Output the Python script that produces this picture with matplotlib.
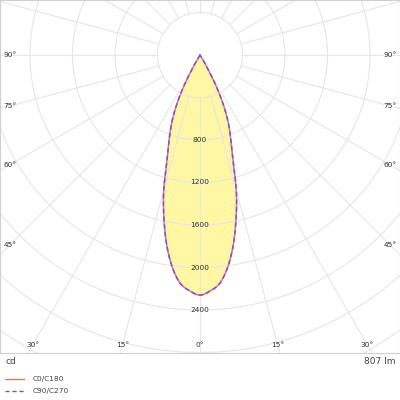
import numpy as np
import matplotlib
matplotlib.use("Agg")
import matplotlib.pyplot as plt
from matplotlib.lines import Line2D

# luminous intensity (cd) vs. gamma angle (deg)
gamma = [0, 2.5, 5, 7.5, 10, 12.5, 15, 17.5, 20, 22.5, 25, 27.5, 30, 32.5]
c0_c180 = [2260, 2222, 2155, 2010, 1810, 1570, 1320, 1030, 850, 700, 530, 330, 110, 0]
c90_c270 = [2260, 2222, 2155, 2010, 1810, 1570, 1320, 1030, 850, 700, 530, 330, 110, 0]

ring_values = [400, 800, 1200, 1600, 2000, 2400, 2800, 3200, 3600, 4000]
ring_labels = [800, 1200, 1600, 2000, 2400]
angle_ticks = [0, 15, 30, 45, 60, 75, 90]
flux_label = "807 lm"
unit_label = "cd"
series_names = ["C0/C180", "C90/C270"]

GRID = "#e6e6e6"
FILL = "#fff7a3"
RED = "#ff6a6a"
BLUE = "#5a5aff"

W, H = 400, 400
cx_px, cy_px = 200, 55          # pole position in pixels
bottom_px = 353                 # lower frame edge
scale = 400 / 42.5              # cd per pixel

fig = plt.figure(figsize=(4, 4), dpi=100)
ax = fig.add_axes([0, 1 - bottom_px / H, 1, bottom_px / H])
ax.set_xlim(-cx_px * scale, (W - cx_px) * scale)
ax.set_ylim(-(bottom_px - cy_px) * scale, cy_px * scale)
ax.set_xticks([])
ax.set_yticks([])
for sp in ax.spines.values():
    sp.set_color("#d0d0d0")
    sp.set_linewidth(0.8)


def to_xy(angle_deg, r):
    a = np.radians(angle_deg)
    return r * np.sin(a), -r * np.cos(a)


def catmull_rom(px, py, n=12):
    # smooth curve through the measured points
    px = np.concatenate([[px[0]], px, [px[-1]]])
    py = np.concatenate([[py[0]], py, [py[-1]]])
    xs, ys = [], []
    tt = np.linspace(0, 1, n, endpoint=False)
    for i in range(1, len(px) - 2):
        p0, p1, p2, p3 = (np.array([px[j], py[j]]) for j in (i - 1, i, i + 1, i + 2))
        for t in tt:
            pt = 0.5 * ((2 * p1) + (-p0 + p2) * t
                        + (2 * p0 - 5 * p1 + 4 * p2 - p3) * t ** 2
                        + (-p0 + 3 * p1 - 3 * p2 + p3) * t ** 3)
            xs.append(pt[0])
            ys.append(pt[1])
    xs.append(px[-2])
    ys.append(py[-2])
    return np.array(xs), np.array(ys)


def closed_curve(vals):
    g = np.array(gamma, dtype=float)
    v = np.array(vals, dtype=float)
    ang = np.concatenate([-g[::-1], g[1:]])
    rr = np.concatenate([v[::-1], v[1:]])
    keep = rr > 0
    # keep the pole as the end points
    ang = np.concatenate([[ang[keep][0]], ang[keep], [ang[keep][-1]]])
    rr = np.concatenate([[0], rr[keep], [0]])
    x, y = to_xy(ang, rr)
    return catmull_rom(x, y)


# fill under the grid
x0, y0 = closed_curve(c0_c180)
ax.fill(x0, y0, color=FILL, zorder=1, lw=0)

# rings and spokes
t = np.linspace(0, 2 * np.pi, 400)
for r in ring_values:
    ax.plot(r * np.cos(t), r * np.sin(t), color=GRID, lw=0.8, zorder=2)
rmax = ring_values[-1] * 1.5
for a in range(0, 360, 15):
    xa, ya = to_xy(a, np.array([ring_values[0], rmax]))
    ax.plot(xa, ya, color=GRID, lw=0.8, zorder=2)

# curves
ax.plot(x0, y0, color=RED, lw=1.1, zorder=3)
x1, y1 = closed_curve(c90_c270)
ax.plot(x1, y1, color=BLUE, lw=1.1, ls=(0, (3, 2)), zorder=4)

# ring labels along the 0 deg axis
for r in ring_labels:
    ax.text(0, -r, str(r), ha="center", va="center", fontsize=5.3,
            color="#333333", zorder=5)

# angle labels where spokes meet an inset box
inset = 10 * scale
right = (W - cx_px) * scale - inset
low = -(bottom_px - cy_px) * scale + 8 * scale
for a in angle_ticks:
    a_r = np.radians(a)
    s, c = np.sin(a_r), np.cos(a_r)
    d_side = right / s if s > 1e-9 else np.inf
    d_bot = -low / c if c > 1e-9 else np.inf
    d = min(d_side, d_bot)
    for sign in ([1, -1] if a else [1]):
        ax.text(sign * d * s, -d * c, f"{a}°", ha="center", va="center",
                fontsize=5.3, color="#333333", zorder=5)

# footer texts
fig.text(5 / W, 1 - 362 / H, unit_label, ha="left", va="center", fontsize=6.5, color="#444444")
fig.text(396 / W, 1 - 362 / H, flux_label, ha="right", va="center", fontsize=6.5, color="#444444")

leg_y = [379, 391]
styles = [dict(color=RED, ls="-"), dict(color=BLUE, ls=(0, (3, 2)))]
for name, yy, st in zip(series_names, leg_y, styles):
    fig.add_artist(Line2D([5 / W, 24 / W], [1 - yy / H] * 2, lw=1.0, **st))
    fig.text(33 / W, 1 - yy / H, name, ha="left", va="center", fontsize=5.3, color="#444444")

fig.savefig("out.png", dpi=100)
